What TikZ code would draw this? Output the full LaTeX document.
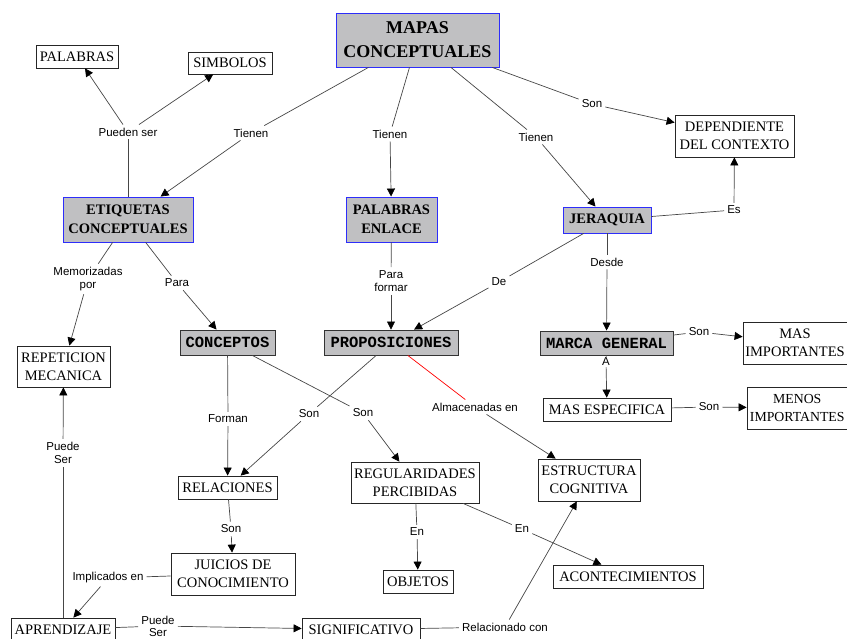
\documentclass[tikz,border=0pt]{standalone}
\usepackage{fontspec}
\setmainfont{Liberation Serif}
\newfontfamily\labelfont{Liberation Sans}
\newfontfamily\courierfont{Liberation Mono}
\usetikzlibrary{arrows.meta}

\definecolor{cajagris}{RGB}{192,192,194}
\definecolor{bordeazul}{RGB}{45,45,250}
\definecolor{gristrazo}{RGB}{70,70,70}

\tikzset{
  principal/.style={draw=bordeazul, fill=cajagris, line width=0.9pt, align=center, inner sep=1pt,
    font=\fontsize{14.5}{19.5}\selectfont\bfseries},
  clave/.style={draw=black!80, fill=cajagris, line width=0.9pt, inner sep=1pt,
    font=\fontsize{15.5}{18}\selectfont\courierfont\bfseries},
  concepto/.style={draw=black!85, fill=white, line width=0.8pt, align=center, inner sep=1pt,
    font=\fontsize{14.5}{18}\selectfont},
  enlace/.style={align=center, inner sep=3pt, font=\fontsize{11.5}{13.5}\selectfont\labelfont},
  linea/.style={draw=gristrazo, line width=0.7pt},
  flecha/.style={linea, -{Triangle[length=8pt,width=8pt,color=black]}},
}

\begin{document}
\begin{tikzpicture}[x=1pt, y=-1pt]
\useasboundingbox (0,0) rectangle (847,639);
\clip (0,0) rectangle (847,639);

% Nivel superior
\node[principal, font=\fontsize{18}{24}\selectfont\bfseries, minimum width=163pt, minimum height=54pt] (mapas) at (417.5,40) {MAPAS\\CONCEPTUALES};
\node[concepto, minimum width=82pt, minimum height=23pt] (palabras) at (77,56.5) {PALABRAS};
\node[concepto, minimum width=84pt, minimum height=22pt] (simbolos) at (230,63) {SIMBOLOS};
\node[concepto, minimum width=119pt, minimum height=42pt] (contexto) at (734.5,136) {DEPENDIENTE\\DEL CONTEXTO};

% Segundo nivel
\node[principal, minimum width=130pt, minimum height=45pt] (etiquetas) at (128,219.5) {ETIQUETAS\\CONCEPTUALES};
\node[principal, minimum width=91pt, minimum height=45pt] (palenlace) at (391.5,219.5) {PALABRAS\\ENLACE};
\node[principal, minimum width=88pt, minimum height=26pt] (jeraquia) at (607,220) {JERAQUIA};

% Tercer nivel
\node[clave, minimum width=95pt, minimum height=25pt] (conceptos) at (227.5,342.5) {CONCEPTOS};
\node[clave, minimum width=134pt, minimum height=25pt] (proposiciones) at (391,342.5) {PROPOSICIONES};
\node[clave, minimum width=133pt, minimum height=24pt] (marca) at (606.5,343) {MARCA GENERAL};
\node[concepto, minimum width=93pt, minimum height=41pt] (repeticion) at (63.5,366.5) {REPETICION\\MECANICA};
\node[concepto, minimum width=112pt, minimum height=42pt] (masimp) at (799,343) {MAS\hspace*{8pt}\\IMPORTANTES\hspace*{8pt}};
\node[concepto, minimum width=128pt, minimum height=23pt] (masesp) at (607,409.5) {MAS ESPECIFICA};
\node[concepto, font=\fontsize{13.8}{18}\selectfont, minimum width=110pt, minimum height=42pt] (menosimp) at (802,408) {MENOS\hspace*{9.5pt}\\IMPORTANTES\hspace*{9.5pt}};

% Cuarto nivel
\node[concepto, minimum width=99pt, minimum height=23pt] (relaciones) at (227.5,487.5) {RELACIONES};
\node[concepto, minimum width=128pt, minimum height=41pt] (regularidades) at (415,482.5) {REGULARIDADES\\PERCIBIDAS};
\node[concepto, minimum width=102pt, minimum height=42pt] (estructura) at (589,480) {ESTRUCTURA\\COGNITIVA};
\node[concepto, minimum width=124pt, minimum height=42pt] (juicios) at (233,574) {JUICIOS DE\\CONOCIMIENTO};
\node[concepto, minimum width=70pt, minimum height=23pt] (objetos) at (418,581.5) {OBJETOS};
\node[concepto, minimum width=150pt, minimum height=23pt] (acontecimientos) at (628,576.5) {ACONTECIMIENTOS};
\node[concepto, minimum width=104pt, minimum height=23pt] (aprendizaje) at (63,629.5) {APRENDIZAJE};
\node[concepto, minimum width=118pt, minimum height=23pt] (significativo) at (361,629.5) {SIGNIFICATIVO};

% Palabras de enlace
\node[enlace] (tienen1) at (251,133) {Tienen};
\node[enlace] (tienen2) at (390,134) {Tienen};
\node[enlace] (tienen3) at (536,137) {Tienen};
\node[enlace] (son1) at (592,104) {Son};
\node[enlace] (pueden) at (128,132) {Pueden ser};
\node[enlace] (memorizadas) at (88,279) {Memorizadas\\por};
\node[enlace] (para) at (177,283) {Para};
\node[enlace] (paraformar) at (391,281) {Para\\formar};
\node[enlace] (de) at (499,282) {De};
\node[enlace] (desde) at (607,262) {Desde};
\node[enlace] (es) at (734,210) {Es};
\node[enlace] (son2) at (699,332) {Son};
\node[enlace, inner sep=1pt] (a) at (606,362) {A};
\node[enlace] (son3) at (709,407) {Son};
\node[enlace] (forman) at (228,419) {Forman};
\node[enlace] (son4) at (309,414) {Son};
\node[enlace] (son5) at (363,413) {Son};
\node[enlace] (almacenadas) at (475,407) {Almacenadas en};
\node[enlace] (son6) at (231,529) {Son};
\node[enlace] (en1) at (417,532) {En};
\node[enlace] (en2) at (522,529) {En};
\node[enlace] (implicados) at (108,578) {Implicados en};
\node[enlace] (puede1) at (63,453) {Puede\\Ser};
\node[enlace, font=\fontsize{11.5}{12}\selectfont\labelfont] (puede2) at (158,626) {Puede\\Ser};
\node[enlace] (relacionado) at (505,627) {Relacionado con};

% Desde el mapa
\draw[linea] (mapas) -- (tienen1);
\draw[flecha] (tienen1) -- (etiquetas);
\draw[linea] (mapas) -- (tienen2);
\draw[flecha] (tienen2) -- (palenlace);
\draw[linea] (mapas) -- (tienen3);
\draw[flecha] (tienen3) -- (jeraquia);
\draw[linea] (mapas) -- (son1);
\draw[flecha] (son1) -- (contexto);

% Etiquetas
\draw[linea] (etiquetas) -- (pueden);
\draw[flecha] (pueden) -- (palabras);
\draw[flecha] (pueden) -- (simbolos);
\draw[linea] (etiquetas) -- (memorizadas);
\draw[flecha] (memorizadas) -- (repeticion);
\draw[linea] (etiquetas) -- (para);
\draw[flecha] (para) -- (conceptos);

% Enlace y jerarquia
\draw[linea] (palenlace) -- (paraformar);
\draw[flecha] (paraformar) -- (proposiciones);
\draw[linea] (jeraquia) -- (de);
\draw[flecha] (de) -- (proposiciones);
\draw[linea] (jeraquia) -- (desde);
\draw[flecha] (desde) -- (marca);
\draw[linea] (jeraquia) -- (es);
\draw[flecha] (es) -- (contexto);
\draw[linea] (marca) -- (son2);
\draw[flecha] (son2) -- (masimp);
\draw[linea] (marca) -- (a);
\draw[flecha] (a) -- (masesp);
\draw[linea] (masesp) -- (son3);
\draw[flecha] (son3) -- (menosimp);

% Conceptos y proposiciones
\draw[linea] (conceptos) -- (forman);
\draw[flecha] (forman) -- (relaciones);
\draw[linea] (conceptos) -- (son5);
\draw[flecha] (son5) -- (regularidades);
\draw[linea] (proposiciones) -- (son4);
\draw[flecha] (son4) -- (relaciones);
\draw[linea, draw=red] (proposiciones) -- (almacenadas);
\draw[flecha] (almacenadas) -- (estructura);

% Parte inferior
\draw[linea] (relaciones) -- (son6);
\draw[flecha] (son6) -- (juicios);
\draw[linea] (regularidades) -- (en1);
\draw[flecha] (en1) -- (objetos);
\draw[linea] (regularidades) -- (en2);
\draw[flecha] (en2) -- (acontecimientos);
\draw[linea] (juicios) -- (implicados);
\draw[flecha] (implicados) -- (aprendizaje);
\draw[linea] (aprendizaje) -- (puede1);
\draw[flecha] (puede1) -- (repeticion);
\draw[linea] (aprendizaje) -- (puede2);
\draw[flecha] (puede2) -- (significativo);
\draw[linea] (significativo) -- (relacionado);
\draw[flecha] (relacionado) -- (estructura);
\end{tikzpicture}
\end{document}
